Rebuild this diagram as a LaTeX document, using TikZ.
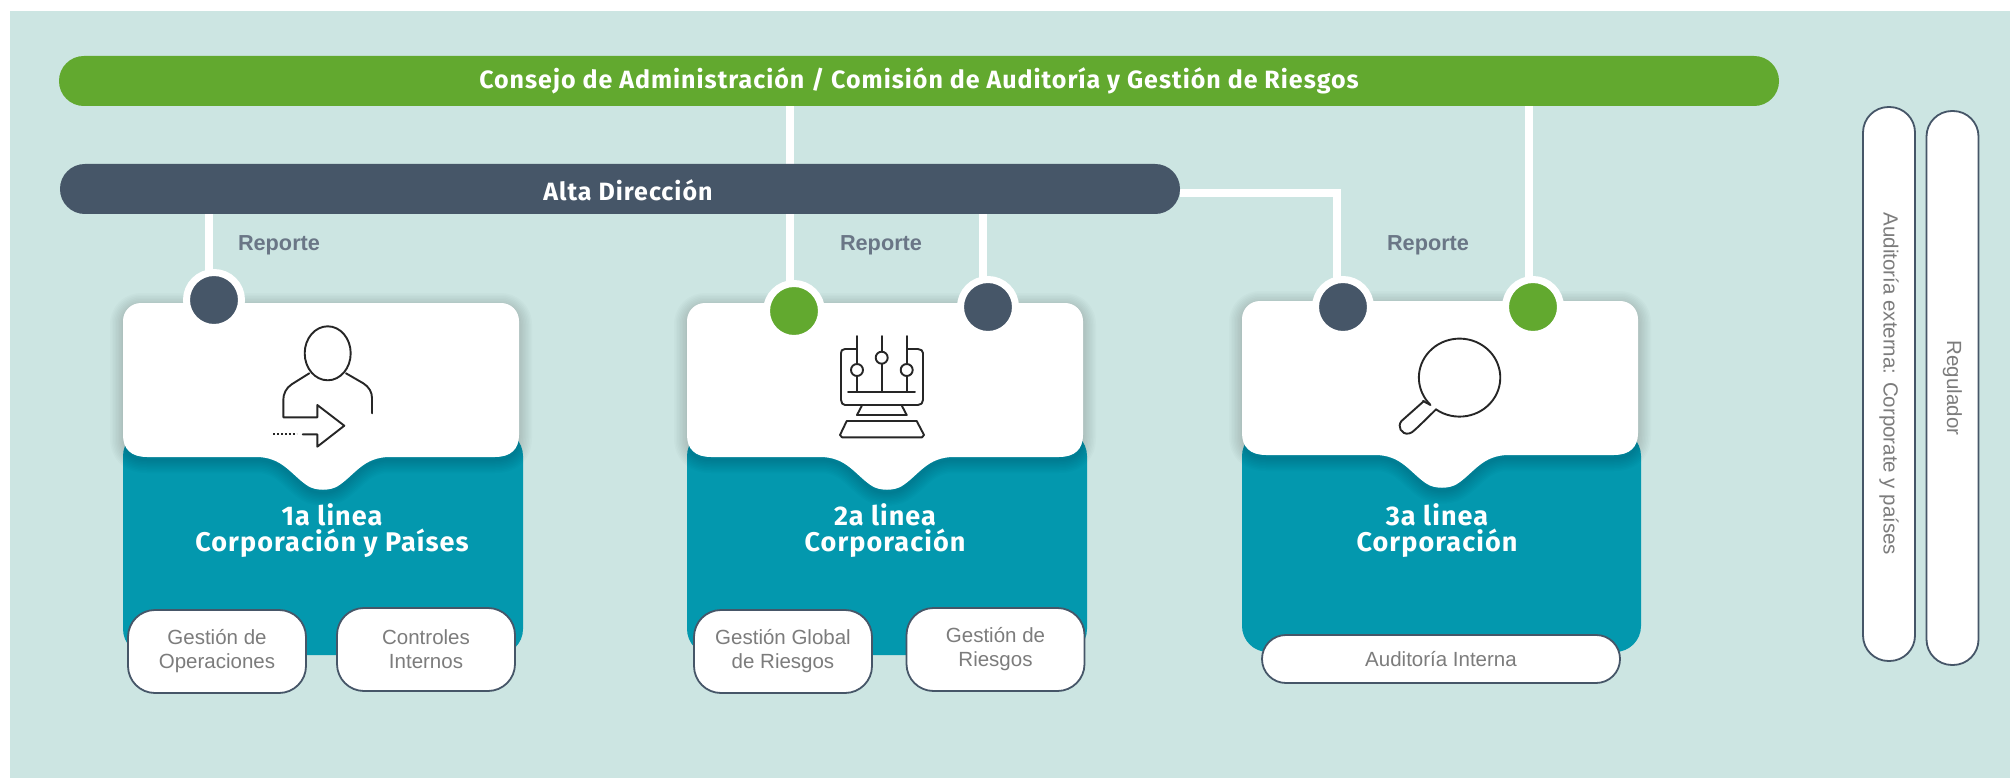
\documentclass[tikz,border=0pt]{standalone}
\usepackage{fontspec}
\setmainfont{Liberation Sans}
\newfontfamily\ttlfont[LetterSpace=4]{Fira Sans}
\usetikzlibrary{calc}
\definecolor{bgc}{HTML}{CCE5E2}
\definecolor{grn}{HTML}{62A92F}
\definecolor{drk}{HTML}{465668}
\definecolor{tea}{HTML}{0398AE}
\definecolor{txg}{HTML}{7C7C7C}
\definecolor{rep}{HTML}{6A7686}
\pgfdeclarelayer{back}\pgfdeclarelayer{conn}
\pgfsetlayers{back,conn,main}
\tikzset{
 bar/.style={rectangle,rounded corners=24.9pt,minimum height=50pt,inner sep=0pt,text=white,font=\ttlfont\bfseries\fontsize{25}{30}\selectfont},
 dot/.style={circle,draw=white,line width=7pt,minimum size=55pt,inner sep=0pt},
 pill/.style={rectangle,draw=drk,fill=white,line width=1.8pt,inner sep=0pt,text=txg,align=center,font=\fontsize{20.5}{24}\selectfont},
 side/.style={pill,rotate=-90,rounded corners=25.5pt,minimum height=52pt},
 box/.style={pill,rounded corners=27pt,minimum width=178pt,minimum height=83pt},
 wire/.style={white,line width=7.5pt},
 rpt/.style={text=rep,font=\bfseries\fontsize{21.7}{26}\selectfont,inner sep=0pt},
 title/.style={text=white,align=center,inner sep=0pt,font=\ttlfont\bfseries\fontsize{27}{26}\selectfont},
 ico/.style={draw=black!85,line width=1.9pt,line cap=round,line join=round},
 teal/.style={fill=tea,rounded corners=26pt}
}
\newcommand{\cardp}{(18,0) -- (378,0) .. controls (388,0) and (396,8) .. (396,18) -- (396,132) .. controls (396,146) and (388,154) .. (372,154) -- (267,154) .. controls (240,154) and (232,172) .. (215,183) .. controls (207,188) and (193,188) .. (185,183) .. controls (168,172) and (160,154) .. (133,154) -- (24,154) .. controls (8,154) and (0,146) .. (0,132) -- (0,18) .. controls (0,8) and (8,0) .. (18,0) -- cycle}
\newcommand{\card}[2]{\begin{scope}[shift={(#1,#2)}]
 \foreach \w in {2,5,...,26}{\draw[black,opacity=.014,line width=\w pt,line join=round,yshift=-3pt] \cardp;}
 \fill[white] \cardp;
\end{scope}}
\begin{document}
\begin{tikzpicture}[x=1pt,y=-1pt]
\useasboundingbox (0,0) rectangle (2010,778);
\begin{pgfonlayer}{back}
\fill[bgc] (10,11) rectangle (2010,778);
\end{pgfonlayer}
% bars
\node[bar,fill=grn,minimum width=1720pt] (board) at (919,81) {Consejo de Administración / Comisión de Auditoría y Gestión de Riesgos};
\node[bar,fill=drk,minimum width=1120pt] (mgmt) at (620,189) {};
\node[text=white,inner sep=0pt,font=\ttlfont\bfseries\fontsize{25}{30}\selectfont] (mgmtt) at (628,190) {Alta Dirección};
% teal bodies and cards
\fill[teal] (123,430) rectangle (523,655);
\fill[teal] (687,430) rectangle (1087,655);
\fill[teal] (1242,430) rectangle (1641,652);
\card{123}{303}
\card{687}{303}
\card{1242}{301}
% dots
\node[dot,fill=drk] (d1) at (214,300) {};
\node[dot,fill=grn] (d2) at (794,311) {};
\node[dot,fill=drk] (d3) at (988,307) {};
\node[dot,fill=drk] (d4) at (1343,307) {};
\node[dot,fill=grn] (d5) at (1533,307) {};
% connectors
\begin{pgfonlayer}{conn}
\draw[wire] ([xshift=-5pt]d1.center) -- ([xshift=-5pt]d1.center |- mgmt.south);
\draw[wire] ([xshift=-4pt]d2.center) -- ([xshift=-4pt]d2.center |- board.south);
\draw[wire] ([xshift=-5pt]d3.center) -- ([xshift=-5pt]d3.center |- mgmt.south);
\draw[wire] ([xshift=-6pt]d4.center) |- (mgmt.east |- 0,193);
\draw[wire] ([xshift=-4pt]d5.center) -- ([xshift=-4pt]d5.center |- board.south);
\end{pgfonlayer}
% reporte
\node[rpt] (r1) at (279,245) {Reporte};
\node[rpt] (r2) at (881,245) {Reporte};
\node[rpt] (r3) at (1428,245) {Reporte};
% titles
\node[title] (t1) at (332,531) {1a linea\\Corporación y Países};
\node[title] (t2) at (885,531) {2a linea\\Corporación};
\node[title] (t3) at (1437,531) {3a linea\\Corporación};
% pills
\node[box] (p1) at (217,651.5) {Gestión de\\Operaciones};
\node[box] (p2) at (426,649.5) {Controles\\Internos};
\node[box] (p3) at (783,651.5) {Gestión Global\\de Riesgos};
\node[box] (p4) at (995.5,649.5) {Gestión de\\Riesgos};
\node[pill,rounded corners=23.9pt,minimum width=358pt,minimum height=48pt] (p5) at (1441,659) {Auditoría Interna};
\node[side,minimum width=554pt] (s1) at (1889,384) {\raisebox{0pt}{Auditoría externa: Corporate y países}};
\node[side,minimum width=554pt] (s2) at (1952.5,388) {Regulador};
% icon 1
\draw[ico] (327.7,353.3) ellipse [x radius=23,y radius=27];
\draw[ico] (309.3,373.3) -- (291.7,384.3) .. controls (286,388) and (283.3,394) .. (283.3,400) -- (283.3,417.3) -- (317.3,417.3) -- (317.3,405) -- (344.3,425.7) -- (317.3,446.7) -- (317.3,434.3) -- (302.7,434.3);
\draw[ico,dotted,line cap=butt] (273.3,434.3) -- (296.7,434.3);
\draw[ico] (346,373.3) -- (363.3,383.3) .. controls (369,387) and (372,392) .. (372,398) -- (372,413.3);
% icon 2
\draw[ico] (856.7,349) -- (845,349) .. controls (842,349) and (841,351) .. (841,353) -- (841,400) .. controls (841,403) and (843,405) .. (845,405) -- (918,405) .. controls (921,405) and (923,403) .. (923,400) -- (923,353) .. controls (923,351) and (921,349) .. (918,349) -- (907,349);
\draw[ico] (857,336) -- (857,364) (857,376) -- (857,391.7);
\draw[ico] (881.7,336) -- (881.7,351.7) (881.7,363.7) -- (881.7,391.7);
\draw[ico] (906.7,336) -- (906.7,364) (906.7,376) -- (906.7,391.7);
\draw[ico] (857,370) circle [radius=6];
\draw[ico] (881.7,357.7) circle [radius=6];
\draw[ico] (906.7,370) circle [radius=6];
\draw[ico] (848,391.7) -- (915,391.7);
\draw[ico] (861.7,406) -- (857,415) -- (906.7,415) -- (902,406);
\draw[ico] (846.7,421) -- (916.7,421) -- (924,435) -- (922,437.3) -- (842,437.3) -- (840,435) -- cycle;
% icon 3
\draw[ico] (1436,409.4) arc [start angle=125.4,end angle=-223.6,x radius=40.7,y radius=39];
\draw[ico] (1423,401) -- (1430.5,405);
\draw[ico] (1424,401) -- (1401.5,421) .. controls (1397,426) and (1401,435) .. (1409,433.5) .. controls (1412,433) and (1414,431) .. (1436,409.4);
\end{tikzpicture}
\end{document}
